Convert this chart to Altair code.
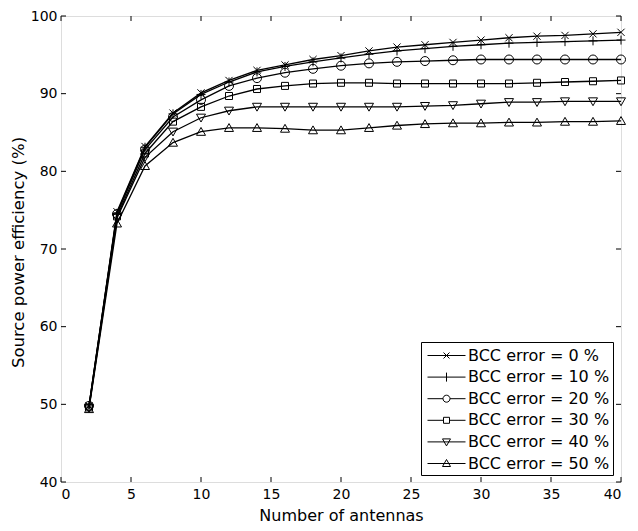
import altair as alt
import pandas as pd

# ---- data ----
antennas = [2, 4, 6, 8, 10, 12, 14, 16, 18, 20, 22, 24, 26, 28, 30, 32, 34, 36, 38, 40]
labels = ["BCC error = 0 %", "BCC error = 10 %", "BCC error = 20 %",
          "BCC error = 30 %", "BCC error = 40 %", "BCC error = 50 %"]
err0 = [49.8, 74.8, 83.2, 87.5, 90.1, 91.7, 93.0, 93.7, 94.4, 94.9,
        95.5, 96.0, 96.3, 96.6, 96.9, 97.2, 97.4, 97.5, 97.7, 97.9]
err10 = [49.8, 74.6, 83.1, 87.4, 89.9, 91.5, 92.8, 93.5, 94.1, 94.6,
         95.1, 95.5, 95.8, 96.1, 96.3, 96.5, 96.6, 96.7, 96.8, 96.9]
err20 = [49.8, 74.5, 82.8, 87.0, 89.2, 91.0, 92.0, 92.7, 93.2, 93.6,
         93.9, 94.1, 94.2, 94.3, 94.4, 94.4, 94.4, 94.4, 94.4, 94.4]
err30 = [49.6, 74.2, 82.3, 86.4, 88.3, 89.7, 90.6, 91.0, 91.3, 91.4,
         91.4, 91.3, 91.3, 91.3, 91.3, 91.3, 91.4, 91.5, 91.6, 91.7]
err40 = [49.5, 74.0, 81.8, 85.1, 86.9, 87.8, 88.3, 88.3, 88.3, 88.3,
         88.3, 88.3, 88.4, 88.5, 88.7, 88.9, 88.9, 89.0, 89.0, 89.0]
err50 = [49.4, 73.3, 80.7, 83.7, 85.1, 85.6, 85.6, 85.5, 85.3, 85.3,
         85.6, 85.9, 86.1, 86.2, 86.2, 86.3, 86.3, 86.4, 86.4, 86.5]
x_ticks = [0, 5, 10, 15, 20, 25, 30, 35, 40]
y_ticks = [40, 50, 60, 70, 80, 90, 100]

series = [err0, err10, err20, err30, err40, err50]
rows = []
for lab, vals in zip(labels, series):
    for a, v in zip(antennas, vals):
        rows.append({"antennas": a, "eff": v, "series": lab})
df = pd.DataFrame(rows)
xt = pd.DataFrame({"antennas": x_ticks})
yt = pd.DataFrame({"eff": y_ticks})

# ---- styling ----
FONT = "DejaVu Sans"
W, H = 560, 466
xs = alt.Scale(domain=[0, 40], nice=False, zero=False)
ys = alt.Scale(domain=[40, 100], nice=False, zero=False)

x_axis = alt.Axis(values=x_ticks, ticks=False, grid=False, domain=False,
                  labelFont=FONT, labelFontSize=14, labelColor="black",
                  labelPadding=5, title="Number of antennas", titleFont=FONT,
                  titleFontSize=16, titleFontWeight="normal", titleColor="black",
                  titleX=W / 2, titleY=38, titleBaseline="alphabetic",
                  titleAlign="center")
y_axis = alt.Axis(values=y_ticks, ticks=False, grid=False, domain=False,
                  labelFont=FONT, labelFontSize=14, labelColor="black",
                  labelPadding=4, title="Source power efficiency (%)",
                  titleFont=FONT, titleFontSize=16.5, titleFontWeight="normal",
                  titleColor="black", titleX=-43, titleY=236, titleAngle=270,
                  titleAlign="center", titleBaseline="middle")

X = alt.X("antennas:Q", scale=xs, axis=x_axis)
Y = alt.Y("eff:Q", scale=ys, axis=y_axis)

marker_paths = [
    "M-0.8,-0.8L0.8,0.8M-0.8,0.8L0.8,-0.8",
    "M-1,0L1,0M0,-1L0,1",
    "M1,0A1,1,0,1,1,-1,0A1,1,0,1,1,1,0Z",
    "M-0.78,-0.78L0.78,-0.78L0.78,0.78L-0.78,0.78Z",
    "M-1,-0.8L1,-0.8L0,0.95Z",
    "M0,-0.95L1,0.8L-1,0.8Z",
]
legend_paths = [
    "M-0.7,0L3.1,0M0.9,-0.3L1.5,0.3M0.9,0.3L1.5,-0.3",
    "M-0.7,0L3.1,0M1.2,-0.45L1.2,0.45",
    "M-0.7,0L0.85,0M1.55,0L3.1,0M1.55,0A0.35,0.35,0,1,1,0.85,0A0.35,0.35,0,1,1,1.55,0Z",
    "M-0.7,0L0.9,0M1.5,0L3.1,0M0.9,-0.3L1.5,-0.3L1.5,0.3L0.9,0.3Z",
    "M-0.7,0L3.1,0M0.8,-0.3L1.6,-0.3L1.2,0.4Z",
    "M-0.7,0L3.1,0M1.2,-0.4L1.6,0.3L0.8,0.3Z",
]

ticks_bottom = alt.Chart(xt).mark_rule(color="black", strokeWidth=1).encode(
    x=X, y=alt.value(H), y2=alt.value(H - 5))
ticks_top = alt.Chart(xt).mark_rule(color="black", strokeWidth=1).encode(
    x=X, y=alt.value(0), y2=alt.value(5))
ticks_left = alt.Chart(yt).mark_rule(color="black", strokeWidth=1).encode(
    y=Y, x=alt.value(0), x2=alt.value(5))
ticks_right = alt.Chart(yt).mark_rule(color="black", strokeWidth=1).encode(
    y=Y, x=alt.value(W - 5), x2=alt.value(W))

lines = alt.Chart(df).mark_line(color="black", strokeWidth=1.3).encode(
    x=X, y=Y, detail="series:N")

points = alt.Chart(df).mark_point(filled=False, color="black", strokeWidth=1,
                                  size=81, opacity=1).encode(
    x=X, y=Y,
    shape=alt.Shape("series:N", scale=alt.Scale(domain=labels, range=marker_paths),
                    legend=None))

legend_layer = alt.Chart(df).transform_filter("datum.antennas < 0").mark_point(
    filled=False, color="black", strokeWidth=1, opacity=1).encode(
    x=X, y=Y,
    shape=alt.Shape("series:N", scale=alt.Scale(domain=labels, range=legend_paths),
                    legend=alt.Legend(title=None, orient="none", legendX=360,
                                      legendY=326, symbolSize=400,
                                      symbolStrokeColor="black",
                                      symbolStrokeWidth=1,
                                      labelFont=FONT, labelFontSize=16,
                                      labelColor="black", labelOffset=23,
                                      rowPadding=2.6, padding=3,
                                      strokeColor="black", fillColor="white",
                                      cornerRadius=0)))

chart = alt.layer(ticks_bottom, ticks_top, ticks_left, ticks_right,
                  lines, points, legend_layer).resolve_scale(
    shape="independent").properties(
    width=W, height=H,
    padding={"left": 53, "top": 8, "right": 9, "bottom": 41},
    autosize=alt.AutoSizeParams(type="none"),
).configure_view(stroke="black", strokeWidth=1).configure(background="white")

chart.save("out.html", embed_options={"renderer": "svg", "actions": False})
